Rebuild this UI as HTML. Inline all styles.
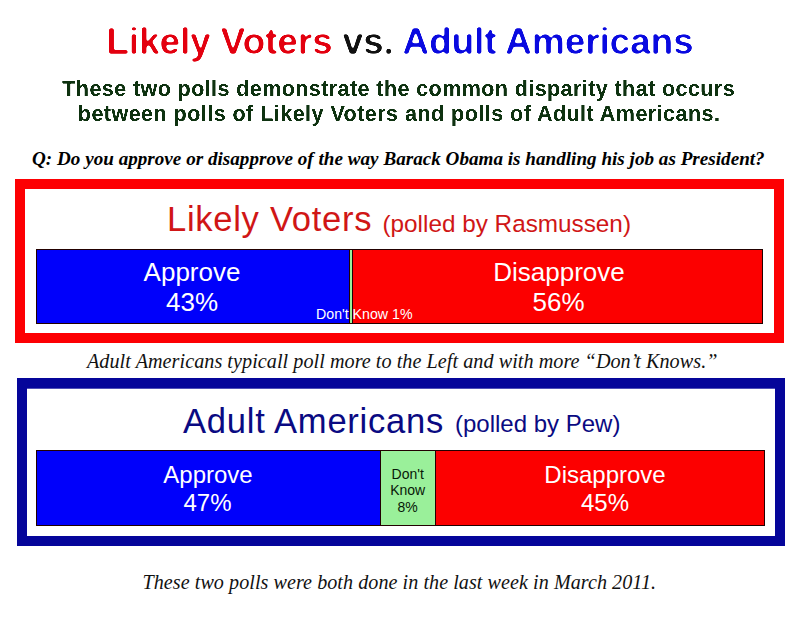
<!DOCTYPE html>
<html>
<head>
<meta charset="utf-8">
<style>
html,body{margin:0;padding:0;background:#fff;}
body{width:800px;height:618px;position:relative;overflow:hidden;font-family:"Liberation Sans",sans-serif;}
.t{position:absolute;white-space:nowrap;line-height:1;}
.sans{font-family:"Liberation Sans",sans-serif;}
.serif{font-family:"Liberation Serif",serif;}
.box{position:absolute;box-sizing:border-box;background:#fff;}
.seg{position:absolute;box-sizing:border-box;border:1px solid #200;}
.c{transform:translateX(-50%);text-align:center;}
</style>
</head>
<body>
<svg width="0" height="0" style="position:absolute">
<defs>
<filter id="rnd" x="-2%" y="-10%" width="104%" height="120%" color-interpolation-filters="sRGB">
<feGaussianBlur in="SourceGraphic" stdDeviation="1.0" result="b"/>
<feComponentTransfer in="b"><feFuncA type="linear" slope="5" intercept="-2.55"/></feComponentTransfer>
</filter>
<filter id="rnd2" x="-2%" y="-10%" width="104%" height="120%" color-interpolation-filters="sRGB">
<feGaussianBlur in="SourceGraphic" stdDeviation="0.6" result="b"/>
<feComponentTransfer in="b"><feFuncA type="linear" slope="4" intercept="-1.3"/></feComponentTransfer>
</filter>
</defs></svg>
<!-- Title -->
<div id="title" class="t sans" style="filter:url(#rnd);left:106.3px;top:23.3px;font-size:37.4px;letter-spacing:-0.3px;font-weight:bold;"><span style="color:#e3000f">Likely Voters</span><span style="color:#111"> vs. </span><span style="color:#0a0ae0">Adult Americans</span></div>

<!-- Subtitle -->
<div id="sub1" class="t sans" style="filter:url(#rnd2);left:62.3px;top:78.6px;font-size:21.5px;font-weight:bold;color:#0e3210;letter-spacing:0.42px;">These two polls demonstrate the common disparity that occurs</div>
<div id="sub2" class="t sans" style="filter:url(#rnd2);left:77.8px;top:104.4px;font-size:21.5px;font-weight:bold;color:#0e3210;letter-spacing:0.47px;">between polls of Likely Voters and polls of Adult Americans.</div>

<!-- Question -->
<div id="q" class="t serif" style="left:32px;top:149px;font-size:19.1px;letter-spacing:0.02px;font-weight:bold;font-style:italic;color:#000;">Q: Do you approve or disapprove of the way Barack Obama is handling his job as President?</div>

<!-- Red box -->
<div class="box" style="left:15px;top:179px;width:769px;height:164px;border:10px solid #fd0003;"></div>
<div id="lv" class="t sans" style="left:167px;top:202.2px;font-size:34.6px;letter-spacing:0.7px;color:#d01616;">Likely Voters</div>
<div id="lv2" class="t sans" style="left:382.5px;top:212px;font-size:24.3px;color:#d01616;">(polled by Rasmussen)</div>
<div class="seg" style="left:36px;top:249px;width:313.5px;height:75px;background:#0000fb;"></div>
<div class="seg" style="left:348.6px;top:249px;width:4.6px;height:75px;background:#9af09a;"></div>
<div class="seg" style="left:352.2px;top:249px;width:411.3px;height:75px;background:#fc0000;"></div>
<div id="a1" class="t sans c" style="left:192px;top:259px;font-size:26px;color:#fff;">Approve</div>
<div id="a2" class="t sans c" style="left:192px;top:289px;font-size:26px;color:#fff;">43%</div>
<div id="d1" class="t sans c" style="left:559px;top:259px;font-size:26px;color:#fff;">Disapprove</div>
<div id="d2" class="t sans c" style="left:558.5px;top:289px;font-size:26px;color:#fff;">56%</div>
<div id="dk1" class="t sans" style="left:316px;top:307px;font-size:14.2px;color:#fff;">Don't Know 1%</div>

<!-- Middle italic -->
<div id="m1" class="t serif" style="left:87px;top:351px;font-size:20.2px;letter-spacing:0.035px;font-style:italic;color:#111;">Adult Americans typicall poll more to the Left and with more &ldquo;Don&rsquo;t Knows.&rdquo;</div>

<!-- Blue box -->
<div class="box" style="left:17px;top:378px;width:768px;height:168px;border:10px solid #05059a;"></div>
<div style="position:absolute;left:27px;top:388px;width:748px;height:1px;background:rgba(5,5,154,.7)"></div>
<div id="aa" class="t sans" style="left:183px;top:403.7px;font-size:34.6px;letter-spacing:0.75px;color:#0a0a82;">Adult Americans</div>
<div id="aa2" class="t sans" style="left:455px;top:412px;font-size:24px;color:#0a0a82;">(polled by Pew)</div>
<div class="seg" style="left:36px;top:450px;width:345px;height:75.5px;background:#0000fb;"></div>
<div class="seg" style="left:380px;top:450px;width:55.5px;height:75.5px;background:#9af09a;"></div>
<div class="seg" style="left:434.5px;top:450px;width:330.5px;height:75.5px;background:#fc0000;"></div>
<div id="b1" class="t sans c" style="left:208px;top:463px;font-size:24px;color:#fff;">Approve</div>
<div id="b2" class="t sans c" style="left:207.5px;top:491px;font-size:24px;color:#fff;">47%</div>
<div id="e1" class="t sans c" style="left:605px;top:463px;font-size:24px;color:#fff;">Disapprove</div>
<div id="e2" class="t sans c" style="left:605px;top:491px;font-size:24px;color:#fff;">45%</div>
<div id="dk2" class="t sans c" style="left:407.7px;top:466px;font-size:14px;line-height:16.4px;color:#081808;">Don't<br>Know<br>8%</div>

<!-- Bottom -->
<div id="m2" class="t serif" style="left:142.5px;top:572px;font-size:20.1px;letter-spacing:0.06px;font-style:italic;color:#111;">These two polls were both done in the last week in March 2011.</div>
</body>
</html>
